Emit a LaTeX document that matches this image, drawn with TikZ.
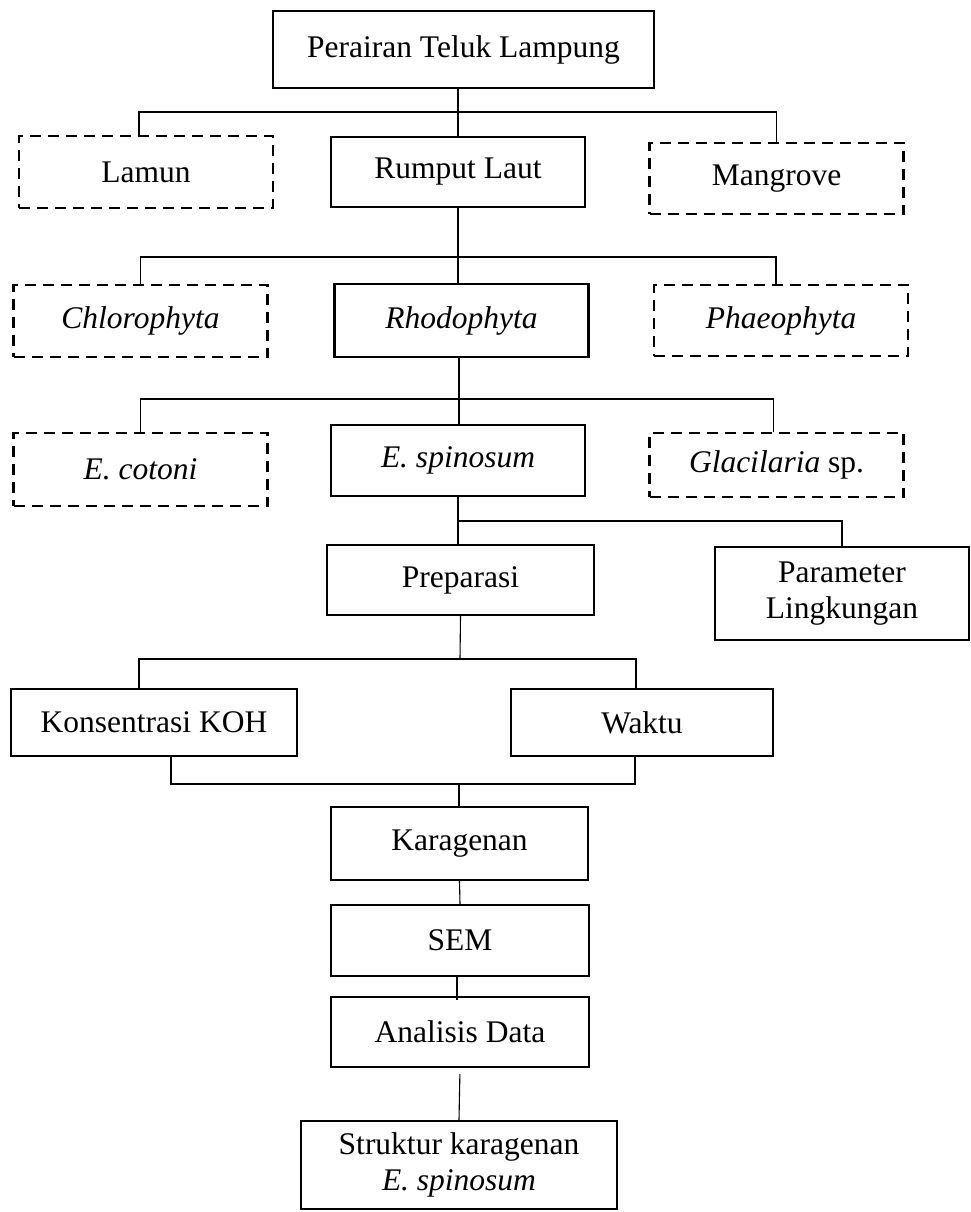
\documentclass[tikz,border=0pt]{standalone}
\usepackage{fontspec}
\setmainfont{Liberation Serif}
\tikzset{
  box/.style={draw=black, line width=2.3, minimum width=254, minimum height=71, inner sep=2,
    font=\fontsize{31.5}{36}\selectfont, align=center},
  box dashed/.style={box, dash pattern=on 11 off 7},
  connect/.style={line width=1.1, black},
}

\begin{document}
\begin{tikzpicture}[x=1pt, y=-1pt]
  \useasboundingbox (0,0) rectangle (970,1212);

  \node[box, minimum width=381, minimum height=77] (teluk) at (463.5,49.5) {Perairan Teluk Lampung};
  \node[box dashed, minimum height=72] (lamun) at (146,172) {Lamun};
  \node[box, minimum height=70] (rumput) at (458,172) {Rumput Laut};
  \node[box dashed] (mangrove) at (776.5,178.5) {Mangrove};

  \node[box dashed, minimum height=72] (chloro) at (140.5,321) {\textit{Chlorophyta}};
  \node[box, minimum height=73] (rhodo) at (461.5,320.5) {\textit{Rhodophyta}};
  \node[box dashed] (phaeo) at (781,320.5) {\textit{Phaeophyta}};

  \node[box dashed, minimum height=73] (cotoni) at (140.5,469.5) {\textit{E. cotoni}};
  \node[box] (spinosum) at (458,460.5) {\textit{E. spinosum}};
  \node[box dashed, minimum height=64] (glacilaria) at (776.5,465) {\textit{Glacilaria} sp.};

  \node[box, minimum width=267, minimum height=70] (preparasi) at (460.5,580) {Preparasi};
  \node[box, minimum height=93] (parameter) at (842,593.5) {Parameter\\Lingkungan};

  \node[box, minimum width=286, minimum height=67] (koh) at (154,722.5) {Konsentrasi KOH};
  \node[box, minimum width=262, minimum height=67] (waktu) at (642,722.5) {Waktu};

  \node[box, minimum width=257, minimum height=73] (karagenan) at (459.5,843.5) {Karagenan};
  \node[box, minimum width=258] (sem) at (460,940.5) {SEM};
  \node[box, minimum width=258, minimum height=70] (analisis) at (460,1032) {Analisis Data};
  \node[box, minimum width=316, minimum height=88] (struktur) at (459,1165) {Struktur karagenan\\\textit{E. spinosum}};

  % branch points
  \coordinate (j1) at (459,112);
  \coordinate (j2) at (459,257);
  \coordinate (j3) at (459,399);
  \coordinate (j4) at (459,521);
  \coordinate (j5) at (460,659);
  \coordinate (j6) at (459,784);

  \draw[connect] (rumput.north) -- (rumput.north |- teluk.south);
  \draw[connect] ([xshift=-7]lamun.north) |- (j1) -| (mangrove.north);
  \draw[connect] (rumput.south) -- (rumput.south |- rhodo.north);
  \draw[connect] (chloro.north) |- (j2) -| ([xshift=-5]phaeo.north);
  \draw[connect] (rhodo.south -| j3) -- (spinosum.north -| j3);
  \draw[connect] (cotoni.north) |- (j3) -| ([xshift=-3]glacilaria.north);
  \draw[connect] (spinosum.south) -- (preparasi.north -| spinosum.south);
  \draw[connect] (j4) -| (parameter.north);
  \draw[connect] (preparasi.south) -- (j5);
  \draw[connect] ([xshift=-15]koh.north) |- (j5) -| ([xshift=-6]waktu.north);
  \draw[connect] ([xshift=17]koh.south) |- (j6) -| ([xshift=-7]waktu.south);
  \draw[connect] (j6) -- (karagenan.north -| j6);
  \draw[connect] (karagenan.south) -- (sem.north);
  \draw[connect] ([xshift=-3]sem.south) -- ([xshift=-3,yshift=-4]analisis.north);
  \draw[connect, shorten <=6] (analisis.south) -- (struktur.north);
\end{tikzpicture}
\end{document}
